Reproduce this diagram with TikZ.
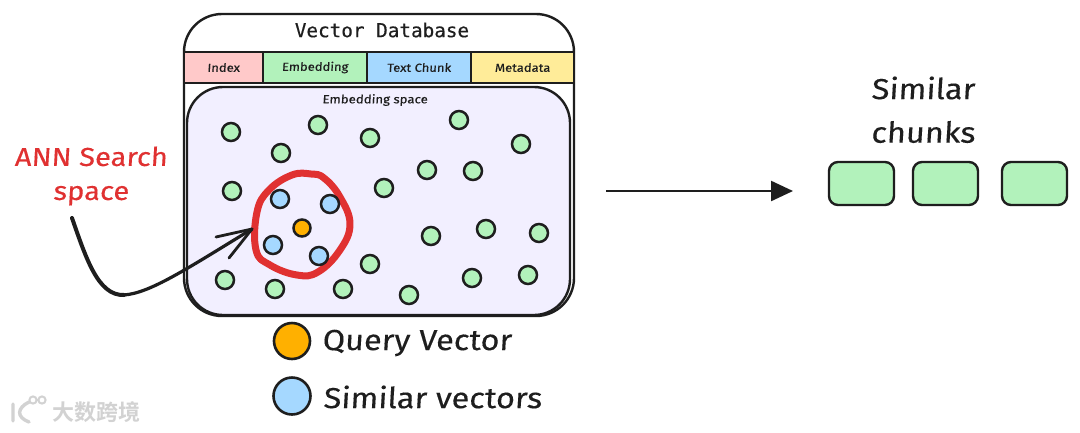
\documentclass[tikz,border=0pt]{standalone}
\usepackage{fontspec}
\setmainfont{Open Sans}
\newfontfamily\hand{Fira Sans}[FakeSlant=0.06,FakeStretch=1.12,FakeBold=0.25]
\newfontfamily\codefont{DejaVu Sans Mono}[FakeBold=0.35]
\newfontfamily\cjk{Noto Sans CJK SC Bold}
\usetikzlibrary{arrows.meta,calc}
\definecolor{ink}{HTML}{1E1E1E}
\definecolor{redink}{HTML}{E03131}
\definecolor{mint}{HTML}{B2F2BB}
\definecolor{sky}{HTML}{A5D8FF}
\definecolor{pinkcell}{HTML}{FFC9C9}
\definecolor{butter}{HTML}{FFEC99}
\definecolor{lav}{HTML}{F2EFFF}
\definecolor{amber}{HTML}{FFB000}
\definecolor{wm}{HTML}{D2D2D2}
\newcommand{\fsz}[1]{\fontsize{#1}{#1}\selectfont}
\tikzset{
  x=1pt,y=-1pt,
  cellbox/.style={draw=ink,line width=2.2pt,minimum height=31pt,inner sep=0,outer sep=0,anchor=north west,font=\hand\fsz{11.6},text=ink},
  dotg/.style={circle,draw=ink,line width=2.5pt,fill=mint,minimum size=18pt,inner sep=0,outer sep=0},
  dotb/.style={circle,draw=ink,line width=2.5pt,fill=sky,minimum size=18pt,inner sep=0,outer sep=0},
  doto/.style={circle,draw=ink,line width=2.5pt,fill=amber,minimum size=17pt,inner sep=0,outer sep=0},
  legenddot/.style={circle,draw=ink,line width=2.6pt,inner sep=0,outer sep=0},
  chunk/.style={draw=ink,line width=2.4pt,fill=mint,rounded corners=9pt,minimum width=65pt,minimum height=43pt,inner sep=0,outer sep=0,anchor=north west},
  bigtext/.style={font=\hand\fsz{29},text=ink,inner sep=0},
  legendtext/.style={font=\hand\fsz{29},text=ink,inner sep=0,anchor=west},
}
\begin{document}
\begin{tikzpicture}
\useasboundingbox (0,0) rectangle (1080,432);
\fill[white] (0,0) rectangle (1080,432);

% outer database shape
\draw[ink,line width=2.4pt,fill=white,rounded corners=38pt] (184,316) -- (184,14) -- (574,14) -- (574,316) -- cycle;
\node[font=\codefont\fsz{19.3},text=ink,inner sep=0] (title) at (382,30) {Vector Database};

% header row
\node[cellbox,fill=pinkcell,minimum width=79pt] (cIndex) at (184,52) {Index};
\node[cellbox,fill=mint,minimum width=104pt] (cEmb) at (263,52) {Embedding};
\node[cellbox,fill=sky,minimum width=104pt] (cText) at (367,52) {Text Chunk};
\node[cellbox,fill=butter,minimum width=103pt] (cMeta) at (471,52) {Metadata};

% embedding space
\draw[ink,line width=2.4pt,fill=lav,rounded corners=36pt] (187,315) -- (187,87) -- (570,87) -- (570,315) -- cycle;
\node[font=\hand\fsz{11.8},text=ink,inner sep=0] (espace) at (375,100) {Embedding space};

% green dots
\foreach \i/\px/\py in {1/231/132,2/318/125,3/370/138,4/281/153,5/459/120,6/521/144,7/232/191,8/427/170,9/473/171,10/384/188,11/431/236,12/486/229,13/539/233,14/225/280,15/275/289,16/343/289,17/370/264,18/409/295,19/472/278,20/528/275}
  \node[dotg] (g\i) at (\px,\py) {};

% search circle
\draw[redink,line width=7pt,line cap=round,line join=round] plot[smooth cycle,tension=0.7] coordinates {(311,174) (292,175) (269,190) (257,212) (256,250) (270,265) (297,275) (318,272) (340,250) (350,224) (340,197) (324,178)};
\coordinate (circleW) at (252,229);

% blue and query dots
\foreach \i/\px/\py in {1/280/199,2/330/204,3/273/245,4/319/256}
  \node[dotb] (b\i) at (\px,\py) {};
\node[doto] (q) at (302,228) {};

% annotation
\node[font=\hand\fsz{26},text=redink,align=center,inner sep=0] (ann) at (91,176) {ANN Search\\[8pt]space};
\coordinate (annS) at (72,218);
\draw[ink,line width=4pt,line cap=round] (annS) .. controls (86,258) and (98,296) .. (124,295);
\draw[ink,line width=3.2pt,line cap=round] (124,295) .. controls (150,293) and (185,270) .. (circleW);
\draw[ink,line width=2.8pt,line cap=round,line join=round] (216,237) -- (circleW) -- (229,258);

% legend
\node[legenddot,fill=amber,minimum size=36pt] (lq) at (292,341) {};
\node[legenddot,fill=sky,minimum size=37pt] (ls) at (292,396) {};
\node[legendtext] (tq) at (322,343) {Query Vector};
\node[legendtext] (ts) at (323,397) {Similar vectors};

% result
\coordinate (arrS) at (606,191);
\coordinate (arrE) at (793,191);
\draw[ink,line width=2.4pt,-{Triangle[length=22pt,width=20pt]}] (arrS) -- (arrE);
\node[bigtext] (sim) at (923,88) {Similar};
\node[bigtext] (chk) at (923,132) {chunks};
\node[chunk] (r1) at (829,162) {};
\node[chunk] (r2) at (913,162) {};
\node[chunk] (r3) at (1002,162) {};

% watermark
\node[font=\cjk\fsz{22},text=wm,inner sep=0,anchor=west] (wmark) at (52,412) {大数跨境};
\draw[wm,line width=3.4pt,line cap=round] (13,404) -- (13,421) (29,402) .. controls (17,408) and (16,417) .. (29,422);
\draw[wm,line width=2pt] (33,400) circle[radius=3.6] (42,400) circle[radius=3.6];
\end{tikzpicture}
\end{document}
